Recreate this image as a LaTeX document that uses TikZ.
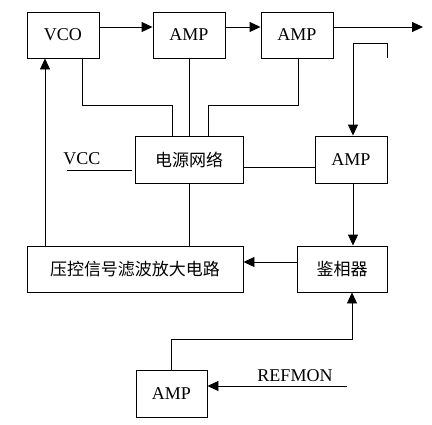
\documentclass[tikz,border=0pt]{standalone}
\usepackage{fontspec}
\setmainfont{Liberation Serif}
\newfontfamily\cjk{Noto Sans CJK SC}
\usetikzlibrary{arrows.meta}
\begin{document}
\begin{tikzpicture}[x=1pt,y=-1pt,line width=0.9pt,
  box/.style={draw,inner sep=0pt,minimum height=46pt,font=\fontsize{18}{20}\selectfont},
  arr/.style={-{Triangle[length=11pt,width=10pt]}}]
  \useasboundingbox (0,0) rectangle (432,424);
  % blocks
  \node[box,minimum width=72pt] (vco) at (63,35) {VCO};
  \node[box,minimum width=72pt] (ampA) at (189,35) {AMP};
  \node[box,minimum width=72pt] (ampB) at (297,35) {AMP};
  \node[box,minimum width=108pt,minimum height=47pt] (power) at (189,159.5) {\cjk\fontsize{17}{19}\selectfont 电源网络};
  \node[box,minimum width=72pt,minimum height=47pt] (ampC) at (351,159.5) {AMP};
  \node[box,minimum width=90pt] (pd) at (342,269) {\cjk\fontsize{17}{19}\selectfont 鉴相器};
  \node[box,minimum width=216pt] (lpf) at (135,269) {\cjk\fontsize{17}{19}\selectfont 压控信号滤波放大电路};
  \node[box,minimum width=71pt,minimum height=47pt] (ampD) at (171.5,393.5) {AMP};
  \node[font=\fontsize{18}{20}\selectfont] (vcc) at (82,159) {VCC};
  \node[font=\fontsize{18}{20}\selectfont] (refmon) at (295,376) {REFMON};
  \coordinate (ry) at (0,27);
  \coordinate (out) at (423,27);
  \coordinate (tap) at (387,43);
  \coordinate (vccline) at (67,170);
  \coordinate (ref) at (347,386);
  % signal path
  \draw[arr] (vco.east |- ry) -- (ampA.west |- ry);
  \draw[arr] (ampA.east |- ry) -- (ampB.west |- ry);
  \draw[arr] (ampB.east |- ry) -- (out);
  \draw[arr] (tap |- ampB.south) -- (tap) -| ([xshift=2pt]ampC.north);
  \draw[arr] ([xshift=2pt]ampC.south) -- ([xshift=2pt]ampC.south |- pd.north);
  \draw[arr] ([yshift=7pt]pd.west) -- ([yshift=7pt]lpf.east);
  \draw[arr] (lpf.north -| 45,0) -- (vco.south -| 45,0);
  \draw[arr] (ampD.north) |- (352,339) -- (pd.south -| 352,0);
  \draw[arr] (ref) -- (ampD.east |- ref);
  % supply lines
  \draw (vccline) -- ++(65,0);
  \draw (vco.south -| 82,0) |- (172,105) -- (power.north -| 172,0);
  \draw (ampA.south) -- (power.north);
  \draw (ampB.south -| 298,0) |- (208,105) -- (power.north -| 208,0);
  \draw ([yshift=-7.5pt]power.east) -- ([yshift=-7.5pt]ampC.west);
  \draw (power.south) -- (power.south |- lpf.north);
\end{tikzpicture}
\end{document}
